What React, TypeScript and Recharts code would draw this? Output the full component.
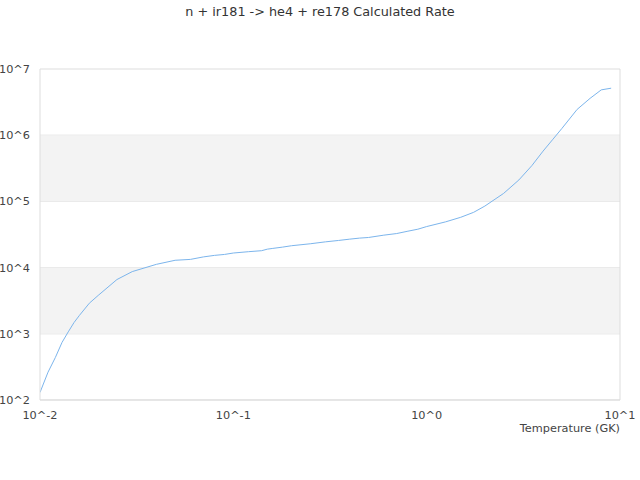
import React from 'react';
import {
  LineChart,
  Line,
  XAxis,
  YAxis,
  CartesianGrid,
  ReferenceArea,
  ReferenceLine,
} from 'recharts';

const temperatures = [
  0.01, 0.011, 0.012, 0.013, 0.014, 0.015, 0.016, 0.018, 0.02, 0.025, 0.03,
  0.04, 0.05, 0.06, 0.07, 0.08, 0.09, 0.1, 0.12, 0.14, 0.15, 0.16, 0.18, 0.2,
  0.25, 0.3, 0.35, 0.4, 0.45, 0.5, 0.6, 0.7, 0.8, 0.9, 1, 1.25, 1.5, 1.75, 2,
  2.5, 3, 3.5, 4, 4.5, 5, 6, 7, 8, 9,
];

const rates = [
  130, 263, 437, 741, 1070, 1480, 1900, 2900, 3800, 6600, 8700,
  11200, 12900, 13300, 14500, 15300, 15800, 16600, 17400, 18000, 19000, 19500, 20400, 21400,
  22900, 24500, 25700, 26900, 27900, 28500, 30900, 32700, 35500, 38000, 41700, 49000, 57500, 68400, 85000,
  132000, 211000, 347000, 575000, 870000, 1260000, 2450000, 3600000, 4840000, 5130000,
];

const xTicks = [0.01, 0.1, 1, 10];
const yTicks = [1e2, 1e3, 1e4, 1e5, 1e6, 1e7];
const bands: [number, number][] = [
  [1e3, 1e4],
  [1e5, 1e6],
];

const data = temperatures.map((t, i) => ({ t, rate: rates[i] }));

const fmt = (v: number) => `10^${Math.round(Math.log10(v))}`;

const FONT = '"DejaVu Sans", sans-serif';

export default function App() {
  return (
    <div style={{ position: 'absolute', left: 0, top: 0, width: 640, height: 480, background: '#fff' }}>
      <div
        style={{
          position: 'absolute',
          left: 0,
          top: 4,
          width: 640,
          textAlign: 'center',
          fontFamily: FONT,
          fontSize: 12.8,
          color: '#333',
          lineHeight: '16px',
        }}
      >
        n + ir181 -&gt; he4 + re178 Calculated Rate
      </div>
      <LineChart
        width={640}
        height={480}
        data={data}
        margin={{ top: 69, right: 20, bottom: 50, left: 0 }}
        style={{ fontFamily: FONT }}
      >
        {bands.map(([a, b]) => (
          <ReferenceArea key={a} y1={a} y2={b} fill="#f3f3f3" fillOpacity={1} stroke="none" />
        ))}
        <CartesianGrid vertical={false} stroke="#dddddd" />
        <ReferenceLine x={10} stroke="#dddddd" />
        <XAxis
          dataKey="t"
          type="number"
          scale="log"
          domain={[0.01, 10]}
          ticks={xTicks}
          tickFormatter={fmt}
          allowDataOverflow
          height={30}
          tickLine={false}
          tickMargin={5}
          axisLine={{ stroke: '#dddddd' }}
          tick={{ fill: '#444', fontSize: 11.3 }}
          label={{
            content: (props: any) => {
              const vb = props.viewBox || {};
              return (
                <text
                  x={vb.x + vb.width}
                  y={vb.y + 32}
                  textAnchor="end"
                  fill="#444"
                  fontSize={11.3}
                  fontFamily={FONT}
                >
                  Temperature (GK)
                </text>
              );
            },
          }}
        />
        <YAxis
          type="number"
          scale="log"
          domain={[1e2, 1e7]}
          ticks={yTicks}
          tickFormatter={fmt}
          allowDataOverflow
          width={40}
          tickLine={false}
          tickMargin={4}
          axisLine={{ stroke: '#dddddd' }}
          tick={{ fill: '#444', fontSize: 11.3 }}
        />
        <Line
          dataKey="rate"
          type="linear"
          stroke="#7cb5ec"
          strokeWidth={1}
          dot={false}
          isAnimationActive={false}
        />
      </LineChart>
    </div>
  );
}
